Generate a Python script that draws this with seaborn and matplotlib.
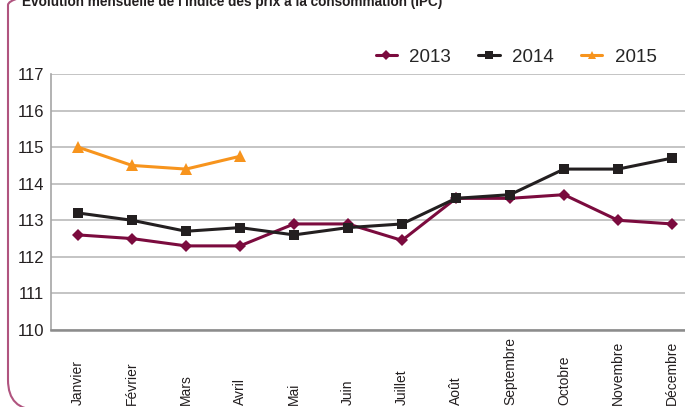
import matplotlib
matplotlib.use("Agg")
import matplotlib.pyplot as plt
import seaborn as sns
import pandas as pd
from matplotlib.patches import FancyBboxPatch
from matplotlib.transforms import IdentityTransform

months = ["Janvier", "Février", "Mars", "Avril", "Mai", "Juin", "Juillet",
          "Août", "Septembre", "Octobre", "Novembre", "Décembre"]
ipc_2013 = [112.6, 112.5, 112.3, 112.3, 112.9, 112.9, 112.45, 113.6, 113.6, 113.7, 113.0, 112.9]
ipc_2014 = [113.2, 113.0, 112.7, 112.8, 112.6, 112.8, 112.9, 113.6, 113.7, 114.4, 114.4, 114.7]
ipc_2015 = [115.0, 114.5, 114.4, 114.75]
years = ["2013", "2014", "2015"]
yticks = [110, 111, 112, 113, 114, 115, 116, 117]
title = "Evolution mensuelle de l'indice des prix à la consommation (IPC)"

rows = []
for yr, vals in zip(years, [ipc_2013, ipc_2014, ipc_2015]):
    for m, v in zip(months, vals):
        rows.append({"mois": m, "IPC": v, "année": yr})
df = pd.DataFrame(rows)

sns.set_theme(style="white")
FONT = ["Liberation Sans", "DejaVu Sans"]
plt.rcParams["font.family"] = FONT

colors = {"2013": "#7b0b3e", "2014": "#231f20", "2015": "#f7941d"}
markers = {"2013": "D", "2014": "s", "2015": "^"}
msizes = {"2013": 6.5, "2014": 7.5, "2015": 8.0}

fig = plt.figure(figsize=(6.85, 4.07), dpi=100)
ax = fig.add_axes([51 / 685, 77 / 407, 648 / 685, 256 / 407])

for yr in years:
    sub = df[df["année"] == yr]
    sns.lineplot(data=sub, x="mois", y="IPC", ax=ax, color=colors[yr],
                 marker=markers[yr], markersize=msizes[yr], markeredgewidth=0,
                 linewidth=2.2, label=yr, sort=False)

ax.set_xlim(-0.5, 11.5)
ax.set_ylim(110, 117)
ax.set_yticks(yticks)
ax.set_yticklabels([str(t) for t in yticks], fontsize=12, color="#231f20")
ax.set_xticks(range(len(months)))
ax.set_xticklabels(months, rotation=90, fontsize=10, color="#231f20", va="bottom")
ax.tick_params(axis="x", length=0, pad=54)
ax.tick_params(axis="y", length=0, pad=5)
ax.set_xlabel("")
ax.set_ylabel("")
ax.grid(axis="y", color="#c4c4c4", linewidth=1.4)
ax.set_axisbelow(True)
for s in ["top", "right"]:
    ax.spines[s].set_visible(False)
ax.spines["left"].set_color("#a6a6a6")
ax.spines["left"].set_linewidth(1.2)
ax.spines["bottom"].set_color("#8c8c8c")
ax.spines["bottom"].set_linewidth(1.8)

leg = ax.legend(loc="center", bbox_to_anchor=(516 / 685, 1 - 57 / 407),
                bbox_transform=fig.transFigure, ncol=3, frameon=False,
                fontsize=13.5, handlelength=1.15, columnspacing=1.45,
                handletextpad=0.65, markerscale=0.75)

fig.text(22 / 685, 1 - 6 / 407, title, fontsize=9.8, fontweight="bold",
         color="#231f20", va="baseline", ha="left")

frame = FancyBboxPatch((8, -3), 760, 435,
                       boxstyle="round,pad=0,rounding_size=30",
                       transform=IdentityTransform(), fill=False,
                       edgecolor="#b0547f", linewidth=1.5)
fig.add_artist(frame)

fig.savefig("out.png", dpi=100)
